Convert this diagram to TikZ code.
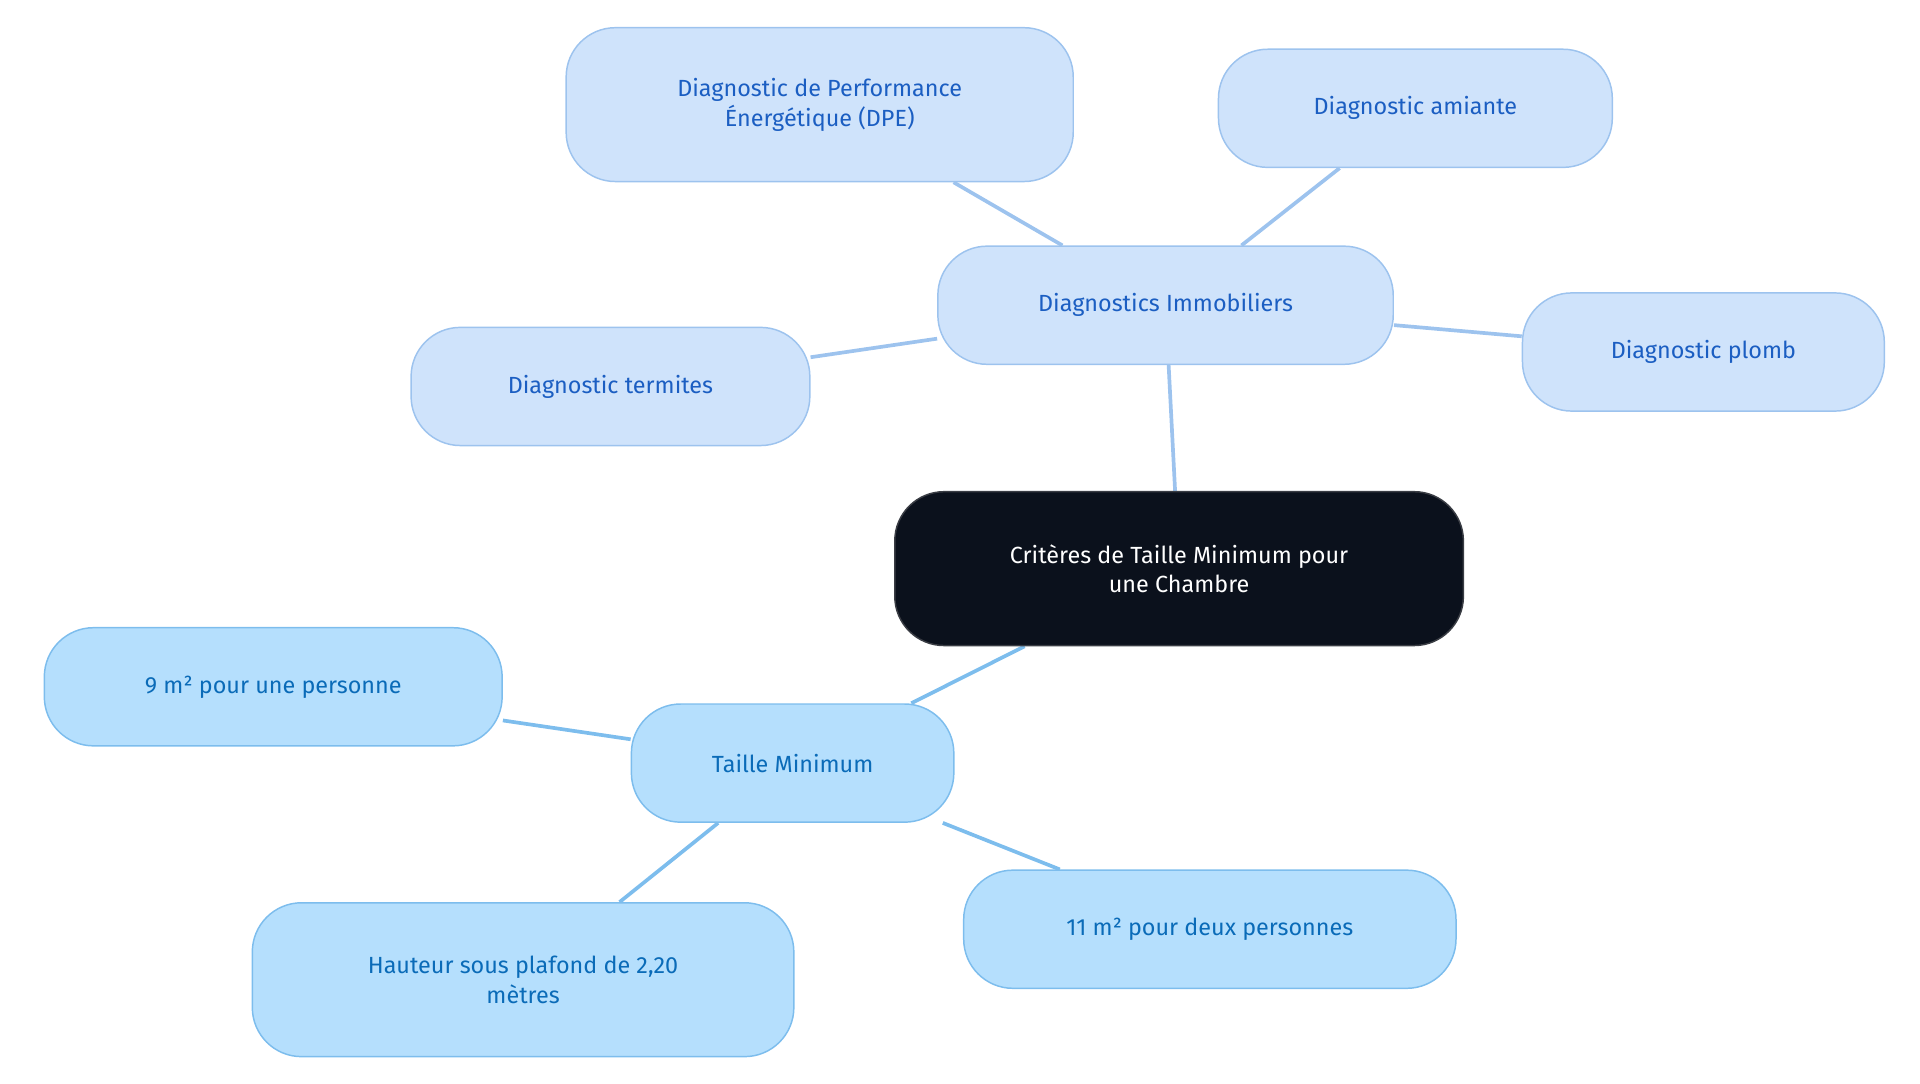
\documentclass[tikz,border=0pt]{standalone}
\usepackage{fontspec}
\setmainfont{Fira Sans}
\usetikzlibrary{backgrounds}
\definecolor{rootfill}{HTML}{0B111C}
\definecolor{difill}{HTML}{CFE3FB}
\definecolor{didraw}{HTML}{9DC3EE}
\definecolor{ditext}{HTML}{1B5EC2}
\definecolor{tmfill}{HTML}{B5DFFD}
\definecolor{tmdraw}{HTML}{7DBDED}
\definecolor{tmtext}{HTML}{0A6BB8}
\begin{document}
\begin{tikzpicture}
    [x=1pt,y=-1pt,
        box/.style={rounded corners=40pt,line width=1.2pt,align=center,
            font=\fontsize{19}{24}\selectfont,inner sep=0pt},
        diag/.style={box,fill=difill,draw=didraw,text=ditext},
        taille/.style={box,fill=tmfill,draw=tmdraw,text=tmtext},
        link/.style={line width=3pt},
    ]
\useasboundingbox (0,0) rectangle (1560,880);

\node[box,fill=rootfill,draw=rootfill!60!gray,text=white,minimum width=462pt,minimum height=125pt] (root) at (958,462)
    {Critères de Taille Minimum pour\\une Chambre};

\node[diag,minimum width=370pt,minimum height=96pt] (immo) at (947,248) {Diagnostics Immobiliers};
\node[diag,minimum width=412pt,minimum height=125pt] (dpe) at (666,85) {Diagnostic de Performance\\Énergétique (DPE)};
\node[diag,minimum width=320pt,minimum height=96pt] (amiante) at (1150,88) {Diagnostic amiante};
\node[diag,minimum width=294pt,minimum height=96pt] (plomb) at (1384,286) {Diagnostic plomb};
\node[diag,minimum width=324pt,minimum height=96pt] (termites) at (496,314) {Diagnostic termites};

\node[taille,minimum width=262pt,minimum height=96pt] (taille) at (644,620) {Taille Minimum};
\node[taille,minimum width=372pt,minimum height=96pt] (neuf) at (222,558) {9 m² pour une personne};
\node[taille,minimum width=440pt,minimum height=125pt] (hauteur) at (425,796) {Hauteur sous plafond de 2,20\\mètres};
\node[taille,minimum width=400pt,minimum height=96pt] (onze) at (983,755) {11 m² pour deux personnes};

\begin{scope}[on background layer]
\draw[link,didraw] (root) -- (immo);
\foreach \n in {dpe,amiante,plomb,termites}{
    \draw[link,didraw] (immo) -- (\n);
}
\draw[link,tmdraw] (root) -- (taille);
\foreach \n in {neuf,hauteur,onze}{
    \draw[link,tmdraw] (taille) -- (\n);
}
\end{scope}

\end{tikzpicture}
\end{document}
